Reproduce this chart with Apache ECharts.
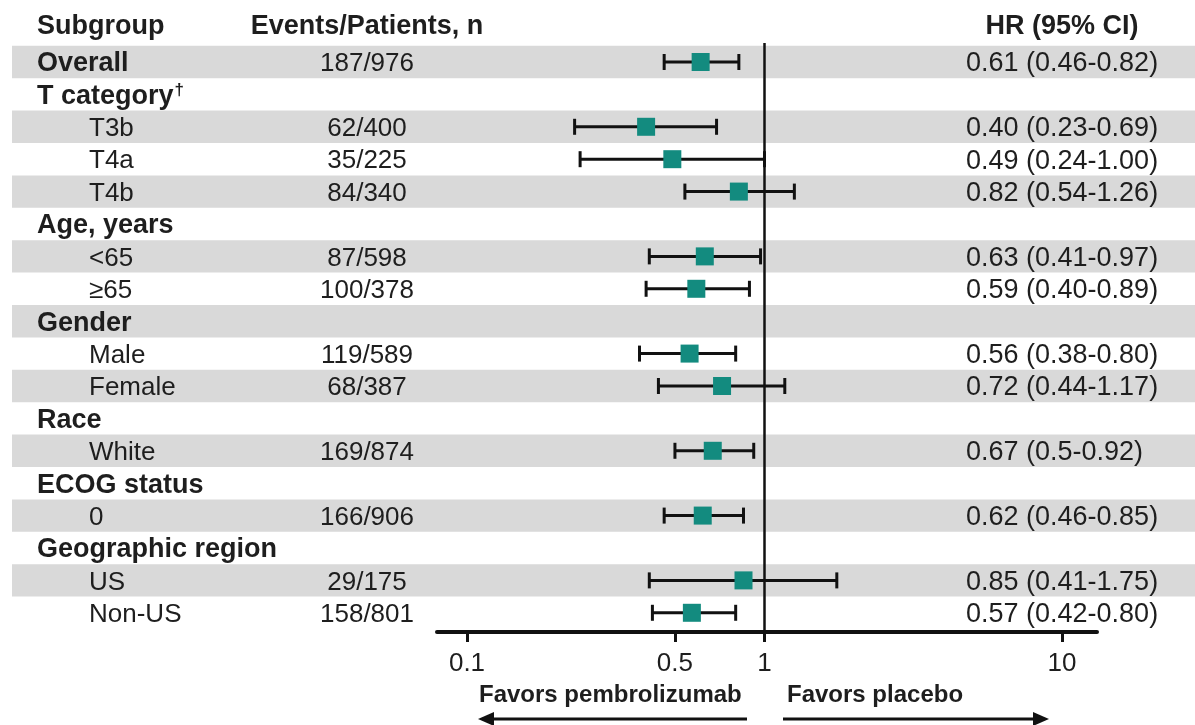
<!DOCTYPE html>
<html>
<head>
<meta charset="utf-8">
<script src="https://cdn.jsdelivr.net/npm/echarts@6/dist/echarts.min.js"></script>
<style>
html,body{margin:0;padding:0;background:#fff;}
#chart{width:1195px;height:725px;}
</style>
</head>
<body>
<div id="chart"></div>
<script>
// ---------------- data ----------------
const subgroups = ["Overall","T category","T3b","T4a","T4b","Age, years","<65","\u226565","Gender","Male","Female","Race","White","ECOG status","0","Geographic region","US","Non-US"];
const isHeading = [true,true,false,false,false,true,false,false,true,false,false,true,false,true,false,true,false,false];
const events = ["187/976","","62/400","35/225","84/340","","87/598","100/378","","119/589","68/387","","169/874","","166/906","","29/175","158/801"];
const hr = [0.61,null,0.40,0.49,0.82,null,0.63,0.59,null,0.56,0.72,null,0.67,null,0.62,null,0.85,0.57];
const ciLow = [0.46,null,0.23,0.24,0.54,null,0.41,0.40,null,0.38,0.44,null,0.5,null,0.46,null,0.41,0.42];
const ciHigh = [0.82,null,0.69,1.00,1.26,null,0.97,0.89,null,0.80,1.17,null,0.92,null,0.85,null,1.75,0.80];
const hrText = ["0.61 (0.46-0.82)","","0.40 (0.23-0.69)","0.49 (0.24-1.00)","0.82 (0.54-1.26)","","0.63 (0.41-0.97)","0.59 (0.40-0.89)","","0.56 (0.38-0.80)","0.72 (0.44-1.17)","","0.67 (0.5-0.92)","","0.62 (0.46-0.85)","","0.85 (0.41-1.75)","0.57 (0.42-0.80)"];
const tickValues = [0.1, 0.5, 1, 10];
const headers = ["Subgroup","Events/Patients, n","HR (95% CI)"];
const directionLabels = ["Favors pembrolizumab","Favors placebo"];
const referenceHR = 1;

// ---------------- style ----------------
const FONT = '"Liberation Sans", Arial, Helvetica, sans-serif';
const TXT = '#1e1e1e';
const TEAL = '#138b7f';
const BAND = '#d9d9d9';
const TEXT_DY = 2;

const chart = echarts.init(document.getElementById('chart'), null, {renderer:'canvas'});

const rowIdx = subgroups.map((_, i) => i);
const bandData = rowIdx.filter(i => i % 2 === 0).map(i => [0, i]);
const forestData = rowIdx.filter(i => hr[i] != null).map(i => [Math.log10(ciLow[i]), Math.log10(ciHigh[i]), Math.log10(hr[i]), i]);
const textData = rowIdx.map(i => [0, i]);

function rowY(api, i){ return api.coord([0, i])[1]; }

const option = {
  animation: false,
  backgroundColor: '#fff',
  grid: {left: 437, right: 98, top: 43, bottom: 93, containLabel: false},
  xAxis: {
    type: 'value',
    min: -1.1008, max: 1.1176,
    splitLine: {show: false},
    axisLine: {show: true, onZero: false, lineStyle: {color: '#111', width: 4}},
    axisTick: {show: true, customValues: tickValues.map(Math.log10), length: 10, lineStyle: {color: '#111', width: 3}},
    axisLabel: {
      show: true, customValues: tickValues.map(Math.log10), margin: 19,
      fontFamily: FONT, fontSize: 26, color: TXT,
      formatter: v => String(+Math.pow(10, v).toPrecision(3))
    }
  },
  yAxis: {type: 'value', inverse: true, min: -0.586, max: 17.593, show: false},
  graphic: [
    {type:'text', x: 37, y: 27, style:{text: headers[0], font: 'bold 27px ' + FONT, fill: TXT, textAlign:'left', textVerticalAlign:'middle'}},
    {type:'text', x: 367, y: 27, style:{text: headers[1], font: 'bold 27px ' + FONT, fill: TXT, textAlign:'center', textVerticalAlign:'middle'}},
    {type:'text', x: 1062, y: 27, style:{text: headers[2], font: 'bold 27px ' + FONT, fill: TXT, textAlign:'center', textVerticalAlign:'middle'}},
    {type:'text', x: 479, y: 695, style:{text: directionLabels[0], font: 'bold 24px ' + FONT, fill: TXT, textAlign:'left', textVerticalAlign:'middle'}},
    {type:'text', x: 787, y: 695, style:{text: directionLabels[1], font: 'bold 24px ' + FONT, fill: TXT, textAlign:'left', textVerticalAlign:'middle'}},
    {type:'line', shape:{x1: 747, y1: 719, x2: 490, y2: 719}, style:{stroke:'#111', lineWidth:3}},
    {type:'polygon', shape:{points:[[478,719],[494,712],[494,726]]}, style:{fill:'#111'}},
    {type:'line', shape:{x1: 783, y1: 719, x2: 1036, y2: 719}, style:{stroke:'#111', lineWidth:3}},
    {type:'polygon', shape:{points:[[1049,719],[1033,712],[1033,726]]}, style:{fill:'#111'}}
  ],
  series: [
    {
      type: 'custom', name: 'bands', z: 0, silent: true, clip: false,
      data: bandData, encode: {x: 0, y: 1},
      renderItem: (params, api) => {
        const y = rowY(api, api.value(1));
        const h = api.size([0, 1])[1];
        return {type:'rect', shape:{x: 12, y: y - h/2, width: api.getWidth() - 12, height: h}, style:{fill: BAND}};
      }
    },
    {
      type: 'line', name: 'ref', data: [], z: 2, silent: true,
      markLine: {
        symbol: 'none', silent: true, animation: false,
        label: {show: false},
        lineStyle: {color: '#111', width: 2.5, type: 'solid'},
        data: [{xAxis: Math.log10(referenceHR)}]
      }
    },
    {
      type: 'custom', name: 'forest', z: 5, silent: true, clip: false,
      data: forestData, encode: {x: [0, 1, 2], y: 3},
      renderItem: (params, api) => {
        const y = rowY(api, api.value(3));
        const xl = api.coord([api.value(0), 0])[0];
        const xh = api.coord([api.value(1), 0])[0];
        const xm = api.coord([api.value(2), 0])[0];
        const st = {stroke: '#111', lineWidth: 3};
        return {type:'group', children:[
          {type:'line', shape:{x1: xl, y1: y, x2: xh, y2: y}, style: st},
          {type:'line', shape:{x1: xl, y1: y - 8, x2: xl, y2: y + 8}, style: st},
          {type:'line', shape:{x1: xh, y1: y - 8, x2: xh, y2: y + 8}, style: st},
          {type:'rect', shape:{x: xm - 9, y: y - 9, width: 18, height: 18}, style:{fill: TEAL}}
        ]};
      }
    },
    {
      type: 'custom', name: 'labels', z: 5, silent: true, clip: false,
      data: textData, encode: {x: 0, y: 1},
      renderItem: (params, api) => {
        const i = api.value(1);
        const y = rowY(api, i) + TEXT_DY;
        const kids = [];
        if (isHeading[i]) {
          const t = subgroups[i];
          if (t === 'T category') {
            kids.push({type:'text', x: 37, y: y, style:{
              text: '{b|' + t + '}{s|\u2020}', textAlign:'left', textVerticalAlign:'middle',
              rich: {b:{font:'bold 27px ' + FONT, fill: TXT, color: TXT}, s:{font:'bold 17px ' + FONT, fill: TXT, color: TXT, verticalAlign:'top', padding:[0,0,12,1]}}
            }});
          } else {
            kids.push({type:'text', x: 37, y: y, style:{text: t, font:'bold 27px ' + FONT, fill: TXT, textAlign:'left', textVerticalAlign:'middle'}});
          }
        } else {
          kids.push({type:'text', x: 89, y: y, style:{text: subgroups[i], font:'26px ' + FONT, fill: TXT, textAlign:'left', textVerticalAlign:'middle'}});
        }
        if (events[i]) kids.push({type:'text', x: 367, y: y, style:{text: events[i], font:'26px ' + FONT, fill: TXT, textAlign:'center', textVerticalAlign:'middle'}});
        if (hrText[i]) kids.push({type:'text', x: 966, y: y, style:{text: hrText[i], font:'27px ' + FONT, fill: TXT, textAlign:'left', textVerticalAlign:'middle'}});
        return {type:'group', children: kids};
      }
    }
  ]
};
chart.setOption(option);
</script>
</body>
</html>
